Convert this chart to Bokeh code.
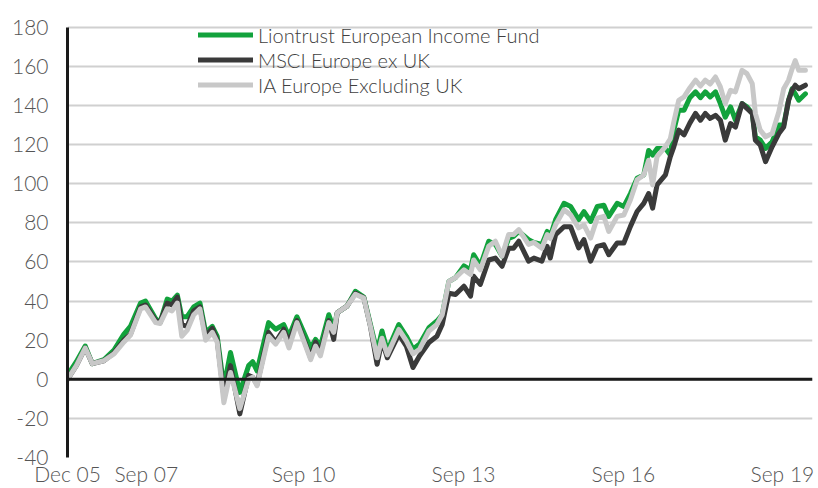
from bokeh.plotting import figure
from bokeh.models import FixedTicker, Span, Legend, LegendItem, Range1d
from bokeh.embed import file_html
from bokeh.resources import INLINE

# months since Dec 2005
months = [0, 2, 4, 5.6, 8.2, 10.5, 12.7, 14.2, 16.5, 17.6, 19.9, 20.9, 22.5, 23.6, 24.8,
          25.8, 27, 28.5, 29.9, 31.2, 32.7, 33.8, 35.3, 36.8, 38.9, 40.9, 41.8, 42.8,
          45.4, 47, 48.8, 50, 51.8, 54.9, 56, 57.1, 59, 60.1, 60.9, 63.1, 65, 66.9,
          68.4, 69.9, 71, 72.2, 74.8, 76.5, 78, 79.5, 81.6, 83.4, 84.6, 86.1, 87.6,
          89.5, 91, 91.7, 93.2, 95.1, 96.6, 98.1, 99.6, 100.7, 101.9, 104.1, 105.3,
          107.1, 108.3, 109, 110.2, 112.1, 113.6, 115.4, 116.6, 118.1, 119.6, 121.1,
          122.2, 124.1, 125.6, 127.1, 128.6, 130.1, 131.2, 132.1, 133.1, 135, 136.1,
          136.9, 138, 139.2, 140.5, 141.8, 142.9, 144, 145.1, 146.3, 147.4, 148.5,
          149.7, 150.8, 152.3, 153.4, 154.6, 155.3, 156.4, 157.6, 159.1, 160.6, 161.7,
          162.8, 163.6, 164.3, 165.1, 166.6]

liontrust = [2, 9, 17, 8, 10, 15, 23, 27, 39, 40, 31, 29, 41, 40, 43,
             32, 32, 37, 39, 24, 27, 22, -4, 13.7, -6.7, 7, 9, 4.3,
             29, 25.6, 28, 22, 32, 16, 20.4, 17, 33, 26, 34, 37.4, 45, 42,
             28, 14, 24.7, 14.5, 28, 22, 15.4, 18, 26.4, 29.8, 33, 50, 52,
             58, 56, 63.7, 58, 70.6, 69, 63, 72, 73, 75.6, 71.4, 70,
             69, 75.6, 73, 81.6, 90, 88.4, 81.6, 85.8, 80.7, 88.4, 89,
             83.3, 90, 88.4, 95, 102.8, 104.5, 117, 114.7, 118, 118, 114.7,
             127.4, 137.6, 137.6, 144, 147, 144, 147, 144.4, 147, 141, 134,
             139.3, 132.5, 141, 139.3, 136, 124, 122.3, 118.1, 121.5, 130, 130,
             142.7, 148.6, 146, 142.7, 146]

msci = [0, 7, 16, 8, 9.5, 13.5, 20, 23, 37, 38, 30, 29, 39, 38, 42,
        28, 27, 35, 37, 22, 26, 20, -8.5, 7, -17.7, 2, 1, -2.5,
        24, 19, 25.6, 19, 30, 11, 19, 13.6, 30, 20.4, 34, 37.4, 44, 41.7,
        27, 7.7, 20, 11, 23, 17, 6, 12, 18.8, 22, 28, 44, 43.4,
        47.6, 42.5, 52.7, 48.5, 61, 62, 57.8, 67, 67, 70.6, 60.4, 62,
        60.4, 68, 62, 74, 78, 78, 67.2, 71.4, 60.4, 68, 68.8,
        63.7, 69.7, 69.7, 78.2, 85.8, 90, 95, 87.5, 99.4, 104.5, 113.9,
        119, 127.4, 125, 131, 136, 132.5, 136, 133.4, 135, 132.5, 122.3,
        130.8, 129, 141, 138.5, 136, 122.3, 119.8, 111.3, 119, 125.7, 129,
        142.7, 147.8, 150.4, 148.6, 150.4]

ia_europe = [0, 7, 16, 8, 9.5, 13, 19, 22.5, 36, 37, 29, 28.5, 36, 35, 39,
             22, 25, 33, 36, 20, 24, 19, -12, 3.5, -15, 0, 1, -3.3,
             22, 18, 24, 16, 29, 10, 17, 12, 29, 24, 34, 37.4, 43.5, 41.5,
             27, 11, 21, 12.5, 25.5, 19.6, 13, 15.4, 24.7, 28, 33, 50, 52,
             56, 53.6, 61, 56, 68, 70.6, 63, 74, 74, 76.5, 69, 70,
             67, 74, 72, 79, 86.7, 84, 77.4, 79, 72.2, 82.4, 83.3,
             75.6, 83.3, 84, 91.8, 102, 104.5, 112, 99.4, 113.9, 119, 123,
             131.7, 142.7, 144.4, 149, 153, 150, 153, 151, 154.6, 149.5, 141,
             147.8, 147, 158, 156.3, 151.2, 136, 127.4, 124, 125.7, 136.8, 148.6,
             153, 158.8, 163, 158, 158]

series_names = ["Liontrust European Income Fund", "MSCI Europe ex UK", "IA Europe Excluding UK"]
y_ticks = [-40, -20, 0, 20, 40, 60, 80, 100, 120, 140, 160, 180]
x_tick_labels = ["Dec 05", "Sep 07", "Sep 10", "Sep 13", "Sep 16", "Sep 19"]

FONT = "Lato Light"
colors = ["#12a23c", "#3a3a3a", "#c8c8c8"]

p = figure(width=818, height=488, x_range=Range1d(0, 168.2), y_range=Range1d(-40, 184),
           output_backend="svg", toolbar_location=None,
           min_border_left=67, min_border_right=6, min_border_top=19, min_border_bottom=29)
p.outline_line_color = None
p.background_fill_color = "white"
p.border_fill_color = "white"

p.xgrid.grid_line_color = None
p.ygrid.grid_line_color = "#d0d0d0"
p.ygrid.grid_line_width = 2

p.yaxis.ticker = FixedTicker(ticks=y_ticks)
p.yaxis.bounds = (-40, 180)
p.yaxis.major_label_overrides = {t: str(t) for t in y_ticks}
p.yaxis.axis_line_color = "#1a1a1a"
p.yaxis.axis_line_width = 3
p.yaxis.major_tick_line_color = None
p.yaxis.minor_tick_line_color = None
p.yaxis.major_tick_out = 0
p.yaxis.major_tick_in = 0
p.yaxis.major_label_standoff = 19
p.yaxis.major_label_text_font = FONT
p.yaxis.major_label_text_font_size = "21px"
p.yaxis.major_label_text_color = "#555555"

# label centres along the axis, in months
x_label_pos = [0, 17.8, 53.3, 89.4, 125.5, 161.4]
p.xaxis.ticker = FixedTicker(ticks=x_label_pos)
p.xaxis.major_label_overrides = {pos: lab for pos, lab in zip(x_label_pos, x_tick_labels)}
p.xaxis.axis_line_color = None
p.xaxis.major_tick_line_color = None
p.xaxis.minor_tick_line_color = None
p.xaxis.major_tick_out = 0
p.xaxis.major_tick_in = 0
p.xaxis.major_label_standoff = 3
p.xaxis.major_label_text_font = FONT
p.xaxis.major_label_text_font_size = "21px"
p.xaxis.major_label_text_color = "#555555"

p.add_layout(Span(location=0, dimension="width", line_color="#1a1a1a", line_width=3))

renderers = []
for vals, c in zip([liontrust, msci, ia_europe], colors):
    r = p.line(months, vals, line_color=c, line_width=5, line_join="round", line_cap="round")
    renderers.append(r)

legend = Legend(items=[LegendItem(label=n, renderers=[r]) for n, r in zip(series_names, renderers)],
                location=(131, 360), orientation="vertical",
                glyph_width=55, glyph_height=25, label_height=25, spacing=0,
                padding=0, margin=0, label_standoff=5,
                border_line_color=None, background_fill_alpha=0,
                label_text_font=FONT, label_text_font_size="20px", label_text_color="#404040")
p.add_layout(legend)

open("out.html", "w").write(file_html(p, INLINE))
